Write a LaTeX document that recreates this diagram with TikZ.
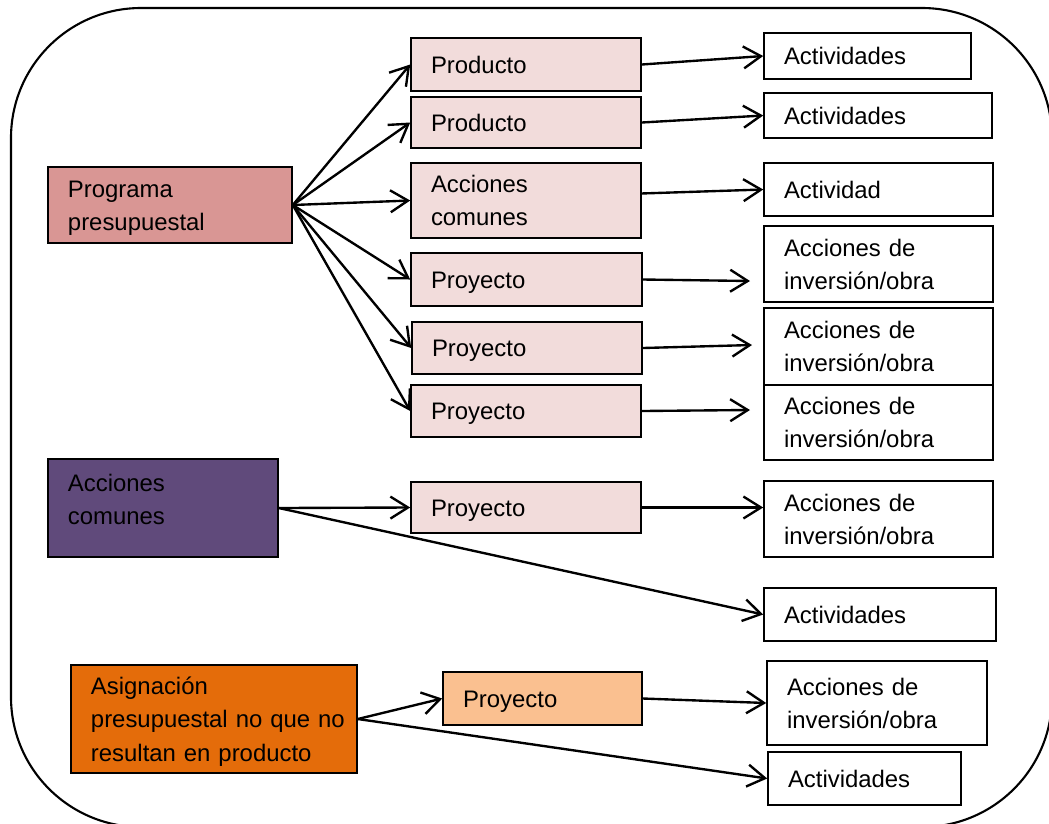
\documentclass[tikz,border=0pt]{standalone}
\usepackage{fontspec}
\setmainfont{Liberation Sans}
\usetikzlibrary{arrows.meta}
\definecolor{ppred}{HTML}{D99694}
\definecolor{cpink}{HTML}{F2DCDB}
\definecolor{cpurple}{HTML}{604A7B}
\definecolor{corange}{HTML}{E46C0A}
\definecolor{clorange}{HTML}{FAC090}
\newcommand{\mystrut}{\rule[-4pt]{0pt}{18pt}}
\tikzset{
  bx/.style n args={2}{draw=black, line width=0.9pt, rectangle,
    minimum width=#1*0.02cm, minimum height=#2*0.02cm,
    text width=(#1-40)*0.02cm, inner xsep=0.4cm, inner ysep=0pt,
    align=left, font=\fontsize{13.6}{17.8}\selectfont},
  arr/.style={line width=1.35pt, line cap=round,
    -{Straight Barb[length=10pt,width=12.5pt,line width=1.35pt]}}
}
\begin{document}
\begin{tikzpicture}[x=0.02cm,y=-0.02cm]
\clip (0,0) rectangle (1049,823);
\fill[white] (0,0) rectangle (1049,823);
\draw[line width=1.2pt, rounded corners=2.6cm] (11,8) rectangle (1052,827);

% left column
\node[bx={244}{76}, fill=ppred] (PP) at (170,205) {\mystrut Programa\\\mystrut presupuestal};
\node[bx={230}{98}, fill=cpurple] (ACp) at (163,508) {\mystrut Acciones\\\mystrut comunes\rule[-14.3pt]{0pt}{1pt}};
\node[bx={286}{108}, fill=corange] (AS) at (214,719) {\mystrut Asignación\\\mystrut\mbox{presupuestal no que no}\\\mystrut resultan en producto};

% middle column
\node[bx={230}{53}, fill=cpink] (P1) at (526,64.5) {\mystrut Producto};
\node[bx={230}{51}, fill=cpink] (P2) at (526,122.5) {\mystrut Producto};
\node[bx={230}{75}, fill=cpink] (AC) at (526,200.5) {\mystrut Acciones\\\mystrut comunes};
\node[bx={231}{53}, fill=cpink] (Pr1) at (526.5,279.5) {\mystrut Proyecto};
\node[bx={230}{52}, fill=cpink] (Pr2) at (527,348) {\mystrut Proyecto};
\node[bx={230}{52}, fill=cpink] (Pr3) at (526,411) {\mystrut Proyecto};
\node[bx={230}{51}, fill=cpink] (Pr4) at (526,507.5) {\mystrut Proyecto};
\node[bx={199}{53}, fill=clorange] (PrO) at (542.5,698.5) {\mystrut Proyecto};

% right column
\node[bx={207}{46}, fill=white] (A1) at (867.5,56) {\mystrut Actividades};
\node[bx={228}{45}, fill=white] (A2) at (878,115.5) {\mystrut Actividades};
\node[bx={229}{53}, fill=white] (A3) at (878.5,189.5) {\mystrut Actividad};
\node[bx={229}{76}, fill=white] (A4) at (878.5,264) {\mystrut Acciones de\\\mystrut inversión/obra};
\node[bx={229}{77}, fill=white] (A5) at (878.5,346.5) {\mystrut Acciones de\\\mystrut inversión/obra};
\node[bx={229}{75}, fill=white] (A6) at (878.5,422.5) {\mystrut Acciones de\\\mystrut inversión/obra};
\node[bx={229}{76}, fill=white] (A7) at (878.5,519) {\mystrut Acciones de\\\mystrut inversión/obra};
\node[bx={232}{53}, fill=white] (A8) at (880,614.5) {\mystrut Actividades};
\node[bx={220}{84}, fill=white] (A9) at (877,703) {\mystrut Acciones de\\\mystrut inversión/obra};
\node[bx={193}{53}, fill=white] (A10) at (864.5,778.5) {\mystrut Actividades};

% free ends
\coordinate (e1) at (750,281);
\coordinate (e2) at (752,345);
\coordinate (e3) at (750,410);

% connectors
\foreach \t in {P1,P2,AC,Pr1,Pr2,Pr3} \draw[arr] (PP.east) -- (\t.west);
\draw[arr] (P1.east) -- (A1.west);
\draw[arr] (P2.east) -- (A2.west);
\draw[arr] ([yshift=4pt]AC.east) -- (A3.west);
\draw[arr] (Pr1.east) -- (e1);
\draw[arr] (Pr2.east) -- (e2);
\draw[arr] (Pr3.east) -- (e3);
\draw[arr] (Pr4.east) -- (A7.west |- Pr4.east);
\draw[arr] (ACp.east) -- (Pr4.west);
\draw[arr] (ACp.east) -- (A8.west);
\draw[arr] (AS.east) -- (PrO.west);
\draw[arr] (AS.east) -- (A10.west);
\draw[arr] (PrO.east) -- (A9.west);
\end{tikzpicture}
\end{document}
